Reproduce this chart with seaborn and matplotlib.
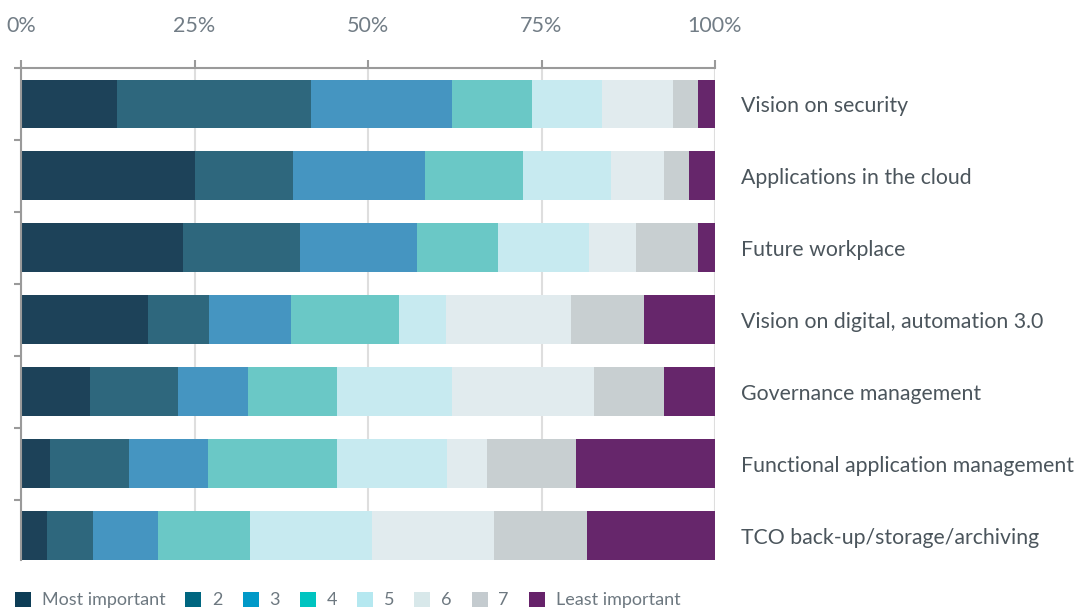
import numpy as np
import pandas as pd
import matplotlib
matplotlib.use("Agg")
import matplotlib.pyplot as plt
from matplotlib.patches import Patch
import seaborn as sns

# Survey topics (top to bottom)
categories = [
    "Vision on security",
    "Applications in the cloud",
    "Future workplace",
    "Vision on digital, automation 3.0",
    "Governance management",
    "Functional application management",
    "TCO back-up/storage/archiving",
]

# Ranking levels
levels = ["Most important", "2", "3", "4", "5", "6", "7", "Least important"]

# Share of respondents (%) per ranking level, one value per topic
most_important = [13.8, 25.1, 23.3, 18.3, 9.9, 4.2, 3.7]
rank_2 = [28.0, 14.0, 16.9, 8.8, 12.7, 11.4, 6.7]
rank_3 = [20.3, 19.1, 16.9, 11.9, 10.2, 11.4, 9.3]
rank_4 = [11.5, 14.0, 11.7, 15.5, 12.8, 18.5, 13.4]
rank_5 = [10.1, 12.7, 13.0, 6.8, 16.5, 15.9, 17.5]
rank_6 = [10.2, 7.7, 6.8, 18.1, 20.5, 5.8, 17.6]
rank_7 = [3.5, 3.5, 8.9, 10.5, 10.2, 12.7, 13.4]
least_important = [2.5, 3.8, 2.5, 10.2, 7.3, 20.1, 18.5]

xticks = [0, 25, 50, 75, 100]
xtick_labels = ["0%", "25%", "50%", "75%", "100%"]

bar_colors = ["#1d4259", "#2e677d", "#4595c1", "#6ac8c6",
              "#c7eaf0", "#e1ebee", "#c8cfd1", "#66266b"]
legend_colors = ["#0d3d56", "#006680", "#0099c8", "#00c4c0",
                 "#b5e8f0", "#d8e8ea", "#c4cbcf", "#66226a"]

sns.set_theme(style="white")
plt.rcParams["font.family"] = ["Lato", "DejaVu Sans"]

W, H = 1078, 611
fig = plt.figure(figsize=(W / 100, H / 100), dpi=100)
ax = fig.add_axes([21 / W, 1 - 560 / H, (715 - 21) / W, (560 - 68) / H])

# 100% stacked bars: normalise each topic, then draw cumulative totals
# from the last level to the first so each level covers the next.
values = np.array([most_important, rank_2, rank_3, rank_4,
                   rank_5, rank_6, rank_7, least_important])
shares = values / values.sum(axis=0) * 100
cumulative = np.cumsum(shares, axis=0)

for i in range(len(levels) - 1, -1, -1):
    df = pd.DataFrame({"topic": categories, "share": cumulative[i]})
    sns.barplot(data=df, x="share", y="topic", order=categories,
                color=bar_colors[i], saturation=1, width=0.68,
                edgecolor="none", linewidth=0, ax=ax)

ax.set_xlim(0, 100)
ax.set_ylim(6.34, -0.5)
ax.set_xlabel("")
ax.set_ylabel("")

# x axis on top
ax.xaxis.tick_top()
ax.set_xticks(xticks)
ax.set_xticklabels(xtick_labels)
ax.tick_params(axis="x", which="major", top=True, bottom=False,
               direction="out", length=6, width=1.5, color="#9a9a9a",
               labelsize=15.5, labelcolor="#727d86", pad=17)
ax.grid(axis="x", color="#dedede", linewidth=1.5)
ax.grid(axis="y", visible=False)
ax.set_axisbelow(True)

# topic names on the right, separators on the left spine
ax.tick_params(axis="y", which="major", left=False, right=False,
               labelleft=False, labelright=True, labelsize=15.3,
               labelcolor="#4b555c", pad=13)
ax.set_yticks(np.arange(-0.5, 6.0, 1.0), minor=True)
ax.tick_params(axis="y", which="minor", left=True, right=False,
               direction="out", length=5, width=1.5, color="#9a9a9a")

for side in ("right", "bottom"):
    ax.spines[side].set_visible(False)
for side in ("top", "left"):
    ax.spines[side].set_color("#9a9a9a")
    ax.spines[side].set_linewidth(1.5)

handles = [Patch(facecolor=c, edgecolor="none") for c in legend_colors]
leg = fig.legend(handles, levels, loc="center left",
                 bbox_to_anchor=(15 / W, 1 - 600 / H), ncol=8,
                 frameon=False, fontsize=13, handlelength=0.89,
                 handleheight=0.89, handletextpad=0.6, columnspacing=1.1,
                 borderpad=0, borderaxespad=0)
for t in leg.get_texts():
    t.set_color("#6d7880")

fig.savefig("out.png", dpi=100)
